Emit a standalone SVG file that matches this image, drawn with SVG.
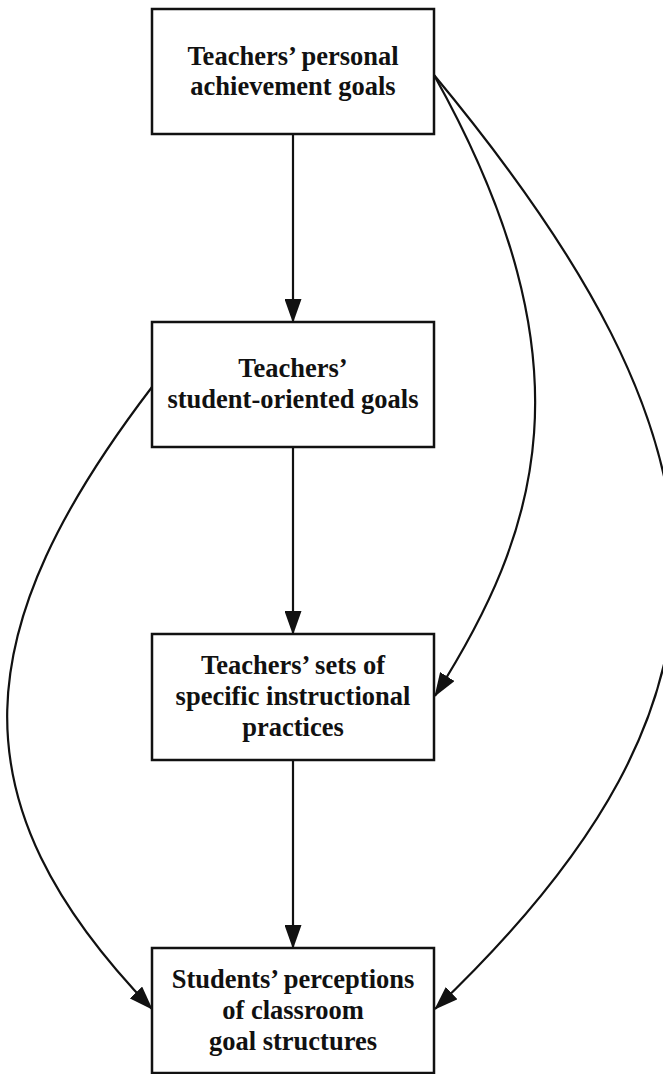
<svg xmlns="http://www.w3.org/2000/svg" width="663" height="1074" viewBox="0 0 663 1074">
<style>
.box{fill:#fff;stroke:#111;stroke-width:2.5}
.lbl{font-family:"Liberation Serif","Times New Roman",serif;font-weight:bold;font-size:26.5px;fill:#111;text-anchor:middle}
.edge{fill:none;stroke:#111;stroke-width:2.2;marker-end:url(#ah)}
</style>
<defs>
<marker id="ah" viewBox="0 0 24 17" refX="23" refY="8.5" markerWidth="24" markerHeight="17" markerUnits="userSpaceOnUse" orient="auto">
<path d="M0,0 L24,8.5 L0,17 z" fill="#111"/>
</marker>
</defs>
<rect width="663" height="1074" fill="#fff"/>
<g id="connectors">
<path class="edge" d="M293,134 L293,322"/>
<path class="edge" d="M293,447 L293,634"/>
<path class="edge" d="M293,760 L293,948"/>
<path class="edge" d="M434,75 C596,365 538.5,532.7 435,696"/>
<path class="edge" d="M434,75 C742,446 768,692 435,1009"/>
<path class="edge" d="M152,387 C-32,628 -50,800 152,1009"/>
</g>
<g id="n1">
<rect class="box" x="152" y="9" width="282" height="125"/>
<text class="lbl" x="293" y="65">Teachers’ personal</text>
<text class="lbl" x="293" y="95">achievement goals</text>
</g>
<g id="n2">
<rect class="box" x="152" y="322" width="282" height="125"/>
<text class="lbl" x="293" y="377">Teachers’</text>
<text class="lbl" x="293" y="408">student-oriented goals</text>
</g>
<g id="n3">
<rect class="box" x="152" y="634" width="282" height="126"/>
<text class="lbl" x="293" y="674">Teachers’ sets of</text>
<text class="lbl" x="293" y="705">specific instructional</text>
<text class="lbl" x="293" y="736">practices</text>
</g>
<g id="n4">
<rect class="box" x="152" y="948" width="282" height="125"/>
<text class="lbl" x="293" y="988">Students’ perceptions</text>
<text class="lbl" x="293" y="1019">of classroom</text>
<text class="lbl" x="293" y="1050">goal structures</text>
</g>
</svg>
